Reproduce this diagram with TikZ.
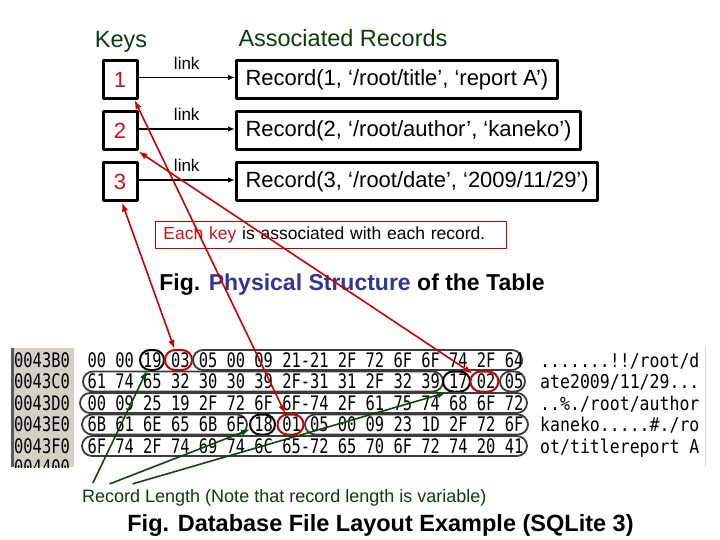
\documentclass[tikz,border=0pt]{standalone}
\usepackage{fontspec}
\setmainfont{Liberation Sans}
\newfontfamily\hexfont[FakeStretch=0.77]{DejaVu Sans Mono}
\newfontfamily\ascfont[FakeStretch=0.87]{DejaVu Sans Mono}
\usetikzlibrary{arrows.meta,shapes.misc}

\definecolor{keyred}{RGB}{204,20,20}
\definecolor{linkred}{RGB}{204,0,0}
\definecolor{headgreen}{RGB}{12,60,12}
\definecolor{linkgreen}{RGB}{14,70,14}
\definecolor{figblue}{RGB}{51,51,153}
\definecolor{addrgray}{RGB}{212,208,200}
\definecolor{pillgray}{RGB}{60,60,60}

\begin{document}
\begin{tikzpicture}[x=1pt,y=-1pt,>=Latex,line cap=round,line join=round,
    keybox/.style={draw,line width=3pt,minimum width=34pt,minimum height=38pt,
      inner sep=0pt,text=keyred,font=\fontsize{22}{24}\selectfont},
    recbox/.style={draw,line width=3pt,minimum height=38pt,inner xsep=9pt,
      anchor=west,font=\fontsize{22}{24}\selectfont},
    linkarrow/.style={-{Latex[length=7pt,width=5.5pt]},line width=1.4pt},
    redarrow/.style={{Latex[length=9pt,width=6.5pt]}-{Latex[length=9pt,width=6.5pt]},
      draw=linkred,line width=1.6pt},
    greenarrow/.style={-{Latex[length=9pt,width=6.5pt]},draw=linkgreen,line width=1.6pt},
    hexrow/.style={anchor=west,inner sep=0pt,text height=14.5pt,text depth=0pt,
      font=\hexfont\fontsize{20}{22}\selectfont},
    ascrow/.style={hexrow,font=\ascfont\fontsize{19}{22}\selectfont},
    pill/.style={rounded rectangle,draw=pillgray,line width=1.8pt,
      minimum height=20pt,inner sep=0pt},
    blackring/.style={pill,draw=black,line width=2pt},
    redring/.style={pill,draw=linkred,line width=2pt}]
  \useasboundingbox (0,0) rectangle (720,540);

  \node[anchor=base,text=headgreen,font=\fontsize{23.5}{26}\selectfont] (keys) at (121,48) {Keys};
  \node[anchor=base,text=headgreen,font=\fontsize{23.5}{26}\selectfont] (assoc) at (343,47) {Associated Records};

  \node[keybox] (k1) at (120,79.5) {1};
  \node[keybox] (k2) at (120,131) {2};
  \node[keybox] (k3) at (120,182) {3};
  \node[recbox] (r1) at (235,79.5) {Record(1, ‘/root/title’, ‘report A’)};
  \node[recbox] (r2) at (235,131) {Record(2, ‘/root/author’, ‘kaneko’)};
  \node[recbox] (r3) at (235,182) {Record(3, ‘/root/date’, ‘2009/11/29’)};
  \foreach \i in {1,2,3}
    \draw[linkarrow] ([yshift=2pt]k\i.east) -- node[above=4pt,font=\fontsize{17}{19}\selectfont] (link\i) {link} ([yshift=2pt]r\i.west);

  \node[draw=linkred,line width=0.8pt,anchor=west,inner xsep=8pt,text width=335pt,
    minimum height=27pt,font=\fontsize{17.5}{20}\selectfont] (note) at (155,234.5)
    {\textcolor{keyred}{Each key} is associated with each record.};
  \node[anchor=base,font=\bfseries\fontsize{23}{26}\selectfont] (fig1) at (352,290)
    {Fig. \textcolor{figblue}{Physical Structure} of the Table};

  \fill[addrgray] (12,348) rectangle (74,467);
  \fill[gray!70!black] (10.5,348) rectangle (13.5,467);
  \draw[gray!35,line width=1pt,densely dotted] (705,347) -- (705,466);
  \begin{scope}
    \clip (10,348) rectangle (74,467);
    \foreach \addr [count=\i] in {0043B0,0043C0,0043D0,0043E0,0043F0,004400}
      \node[hexrow] (addr\i) at (14,{338.5+21.5*\i}) {\addr};
  \end{scope}

  \node[blackring,minimum width=24pt] (c19) at (152,360) {};
  \node[redring,minimum width=27pt] (c03) at (178.5,360) {};
  \node[pill,minimum width=329pt] (p1) at (357.5,360) {};
  \node[pill,minimum width=360pt] (p2) at (263,381.5) {};
  \node[blackring,minimum width=27pt] (c17) at (456.5,381.5) {};
  \node[redring,minimum width=28pt] (c02) at (484.4,381.5) {};
  \node[pill,minimum width=25pt] (c05) at (512.5,381.5) {};
  \node[pill,minimum width=447pt] (p3) at (303.5,403) {};
  \node[pill,minimum width=165pt] (p4a) at (164.5,424.5) {};
  \node[blackring,minimum width=25pt] (c18) at (262.5,424.5) {};
  \node[redring,minimum width=26pt] (c01) at (290.5,424.5) {};
  \node[pill,minimum width=223pt] (p4b) at (416.5,424.5) {};
  \node[pill,minimum width=445pt] (p5) at (304.5,446) {};

  \node[hexrow] (hex1) at (87.4,360) {00 00 19 03 05 00 09 21-21 2F 72 6F 6F 74 2F 64};
  \node[hexrow] (hex2) at (87.4,381.5) {61 74 65 32 30 30 39 2F-31 31 2F 32 39 17 02 05};
  \node[hexrow] (hex3) at (87.4,403) {00 09 25 19 2F 72 6F 6F-74 2F 61 75 74 68 6F 72};
  \node[hexrow] (hex4) at (87.4,424.5) {6B 61 6E 65 6B 6F 18 01 05 00 09 23 1D 2F 72 6F};
  \node[hexrow] (hex5) at (87.4,446) {6F 74 2F 74 69 74 6C 65-72 65 70 6F 72 74 20 41};
  \node[ascrow] (asc1) at (540,360) {.......!!/root/d};
  \node[ascrow] (asc2) at (540,381.5) {ate2009/11/29...};
  \node[ascrow] (asc3) at (540,403) {..\%./root/author};
  \node[ascrow] (asc4) at (540,424.5) {kaneko.....\#./ro};
  \node[ascrow] (asc5) at (540,446) {ot/titlereport A};

  \draw[redarrow] ([xshift=2pt]k3.south) -- (c03);
  \draw[redarrow] ([xshift=-4pt]k1.south east) -- (c01);
  \draw[redarrow] (k2.south east) -- (c02);

  \node[anchor=base west,inner sep=0pt,text=headgreen,font=\fontsize{18}{20}\selectfont] (lenlabel)
    at (82,502) {Record Length (Note that record length is variable)};
  \draw[greenarrow] ([xshift=11pt,yshift=6pt]lenlabel.north west) -- (c19);
  \draw[greenarrow] ([xshift=28pt,yshift=5pt]lenlabel.north west) -- (c18);
  \draw[greenarrow] ([xshift=51pt,yshift=5pt]lenlabel.north west) -- ([xshift=-10pt]c17.south);

  \node[anchor=base,font=\bfseries\fontsize{23.5}{26}\selectfont] (fig2) at (380.5,531)
    {Fig. Database File Layout Example (SQLite 3)};
\end{tikzpicture}
\end{document}
